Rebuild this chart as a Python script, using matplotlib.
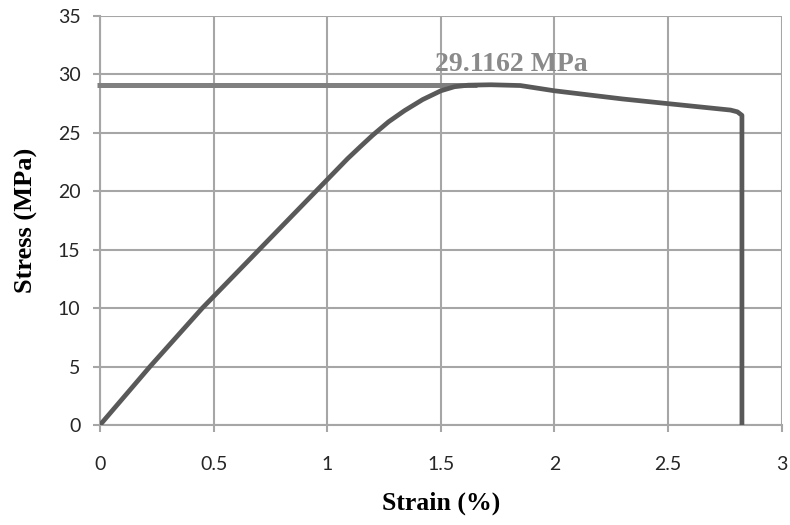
import matplotlib.pyplot as plt
import numpy as np

# stress-strain curve
strain = [0, 0.22, 0.45, 0.7, 0.95, 1.0, 1.09, 1.15, 1.2, 1.27, 1.34, 1.42,
          1.5, 1.56, 1.62, 1.72, 1.85, 2.0, 2.3, 2.5, 2.775, 2.805, 2.825,
          2.825]
stress = [0, 5.0, 10.0, 15.0, 20.0, 21.0, 22.8, 23.9, 24.8, 25.95, 26.9,
          27.85, 28.6, 28.95, 29.08, 29.1162, 29.05, 28.6, 27.9, 27.5, 26.95,
          26.8, 26.5, 0]

peak_stress = 29.1162
peak_line_x = [-0.015, 1.66]
peak_label = "29.1162 MPa"

xticks = [0, 0.5, 1, 1.5, 2, 2.5, 3]
xticklabels = ["0", "0.5", "1", "1.5", "2", "2.5", "3"]
yticks = [0, 5, 10, 15, 20, 25, 30, 35]

fig = plt.figure(figsize=(7.9, 5.25), dpi=100)
ax = fig.add_axes([0.1266, 0.1905, 0.9895 - 0.1266, 0.9695 - 0.1905])

ax.plot(peak_line_x, [peak_stress, peak_stress], color="#808080", lw=3.6,
        solid_capstyle="butt", clip_on=False, zorder=3)
ax.plot(strain, stress, color="#595959", lw=3.4, solid_joinstyle="round",
        zorder=4)
ax.text(1.81, 30.3, peak_label, ha="center", va="baseline",
        family="Liberation Serif", fontweight="bold", fontsize=20,
        color="#8a8a8a")

ax.set_xlim(0, 3)
ax.set_ylim(0, 35)
ax.set_xticks(xticks)
ax.set_xticklabels(xticklabels)
ax.set_yticks(yticks)

gc = "#a6a6a6"
ax.grid(True, color=gc, lw=1.5)
ax.set_axisbelow(True)
for s in ["top", "right"]:
    ax.spines[s].set_visible(False)
for s in ["left", "bottom"]:
    ax.spines[s].set_color(gc)
    ax.spines[s].set_linewidth(1.5)

ax.tick_params(axis="x", length=5, width=1.5, color=gc, pad=17,
               labelsize=14, labelcolor="#262626")
ax.tick_params(axis="y", length=5, width=1.5, color=gc, pad=9,
               labelsize=14, labelcolor="#262626")
for lab in ax.get_xticklabels() + ax.get_yticklabels():
    lab.set_family("Lato")

ax.set_xlabel("Strain (%)", family="Liberation Serif", fontweight="bold",
              fontsize=18.5, labelpad=14)
ax.set_ylabel("Stress (MPa)", family="Liberation Serif", fontweight="bold",
              fontsize=19, labelpad=14)

fig.savefig("out.png", dpi=100)
